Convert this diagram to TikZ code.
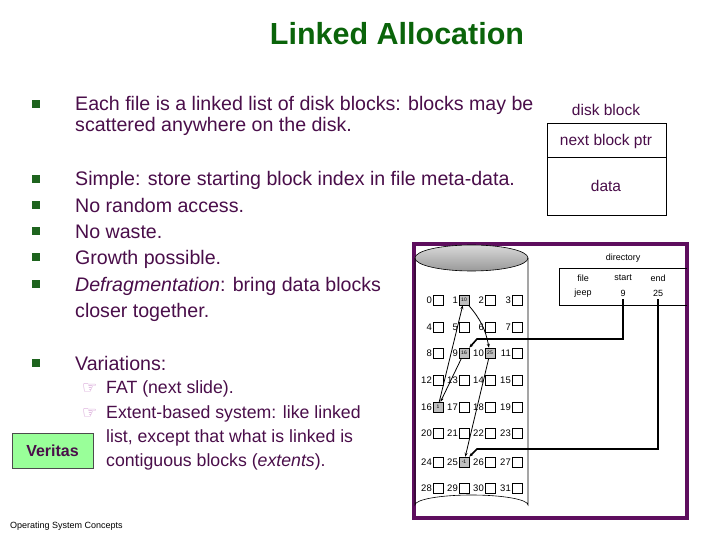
\documentclass[tikz,border=0pt]{standalone}
\usepackage{fontspec}
\setmainfont{Liberation Sans}
\newfontfamily\symf{DejaVu Sans}
\usetikzlibrary{arrows.meta}
\definecolor{tx}{HTML}{4A0E4A}
\definecolor{ttl}{HTML}{0A640A}
\definecolor{bul}{HTML}{1E641E}
\definecolor{frm}{HTML}{5E0E5E}
\definecolor{ptr}{HTML}{C880C8}
\begin{document}
\begin{tikzpicture}[x=1pt,y=-1pt,
  body/.style={anchor=base west,inner sep=0,text=tx,font=\fontsize{19.6}{21}\selectfont},
  sub/.style={anchor=base west,inner sep=0,text=tx,font=\fontsize{17.7}{20}\selectfont},
  bl/.style={fill=bul,minimum size=8pt,inner sep=0},
  pt/.style={anchor=base west,inner sep=0,text=ptr,font=\symf\fontsize{17}{17}\selectfont},
  blk/.style={draw,line width=0.5pt,minimum size=10pt,inner sep=0,font=\fontsize{5}{5}\selectfont},
  used/.style={fill=gray!50},
  num/.style={inner sep=0,font=\fontsize{9.5}{10}\selectfont,anchor=east},
  dir/.style={inner sep=0,font=\fontsize{9}{10}\selectfont},
  lnk/.style={-{Stealth[length=4pt,width=3pt]},line width=0.8pt},
  dlnk/.style={-{Stealth[length=4pt,width=3pt]},line width=1.6pt}]
\useasboundingbox (0,0) rectangle (720,540);
\fill[white] (0,0) rectangle (720,540);
\node[inner sep=0,text=ttl,font=\bfseries\fontsize{30.5}{32}\selectfont] (title) at (397,34) {Linked Allocation};
% bullets
\foreach \y/\n in {104/b1,179/b2,205/b3,231/b4,257/b5,284/b6,363/b7}
  \node[bl] (\n) at (36,\y) {};
\node[body] (t1) at (75,111) {Each file is a linked list of disk blocks: blocks may be};
\node[body] (t1b) at (75,132) {scattered anywhere on the disk.};
\node[body] (t2) at (75,186) {Simple: store starting block index in file meta-data.};
\node[body] (t3) at (75,212) {No random access.};
\node[body] (t4) at (75,238) {No waste.};
\node[body] (t5) at (75,264) {Growth possible.};
\node[body] (t6) at (75,291) {\textit{Defragmentation}: bring data blocks};
\node[body] (t6b) at (75,317) {closer together.};
\node[body] (t7) at (75,370) {Variations:};
\node[pt] (p1) at (82,393) {☞};
\node[pt] (p2) at (82,418) {☞};
\node[sub] (s1) at (106,393) {FAT (next slide).};
\node[sub] (s2) at (106,418) {Extent-based system: like linked};
\node[sub] (s2b) at (106,442) {list, except that what is linked is};
\node[sub] (s2c) at (106,466) {contiguous blocks (\textit{extents}).};
\node[draw=black!70,fill=green!40!white,minimum width=81pt,minimum height=35pt,inner sep=0,text=tx,font=\bfseries\fontsize{16}{16}\selectfont] (ver) at (52.5,450.5) {Veritas};
\node[anchor=base west,inner sep=0,font=\fontsize{9}{10}\selectfont] (foot) at (10,528) {Operating System Concepts};
% legend
\node[inner sep=0,text=tx,font=\fontsize{15.5}{16}\selectfont] (lg) at (606,110) {disk block};
\draw[line width=0.6pt] (547,123) rectangle (666,215);
\draw[line width=0.6pt] (547,157) -- (666,157);
\node[inner sep=0,text=tx,font=\fontsize{15.5}{16}\selectfont] (lg1) at (606,141) {next block ptr};
\node[inner sep=0,text=tx,font=\fontsize{15.5}{16}\selectfont] (lg2) at (606,186) {data};
% disk figure
\draw[frm,line width=4pt] (414,244) rectangle (687,518);
\shade[top color=gray!30,bottom color=gray!80] (471.5,258) ellipse (56.5 and 13);
\draw[line width=0.6pt] (471.5,258) ellipse (56.5 and 13);
\draw[line width=0.6pt] (415,258) -- (415,505) arc[start angle=180,end angle=360,x radius=56.5,y radius=10] -- (528,258);
\foreach \r/\yy in {0/300,1/327,2/353,3/380,4/407,5/433,6/462,7/488}
  \foreach \c/\xx in {0/438,1/464,2/490,3/517}{
    \pgfmathtruncatemacro{\k}{4*\r+\c}
    \node[blk] (b\k) at (\xx,\yy) {};
    \node[num] (n\k) at (\xx-6,\yy) {\k};
  }
\node[blk,used] at (b1) {10};
\node[blk,used] at (b9) {16};
\node[blk,used] at (b10) {25};
\node[blk,used] at (b16) {1};
\node[blk,used] at (b25) {-1};
\draw[line width=0.6pt] (559,268) -- (687,268) (559,268) -- (559,305) -- (687,305);
\node[dir] (dh) at (623,258) {directory};
\node[dir] (hf) at (583,278) {file};
\node[dir] (hs) at (623,278) {start};
\node[dir] (he) at (658,278) {end};
\node[dir] (vf) at (583,293) {jeep};
\node[dir] (vs) at (623,293) {9};
\node[dir] (ve) at (658,293) {25};
\draw[dlnk] (623,299) -- (623,339) -- (477,339) -- (b9.north east);
\draw[dlnk] (658,299) -- (658,449) -- (477,449) -- (b25.north east);
\draw[lnk] (b9) -- (b16);
\draw[lnk] (b16) -- (b1);
\draw[lnk] (b1) to[bend left=15] (b10);
\draw[lnk] (b10) -- (b25);
\end{tikzpicture}
\end{document}
